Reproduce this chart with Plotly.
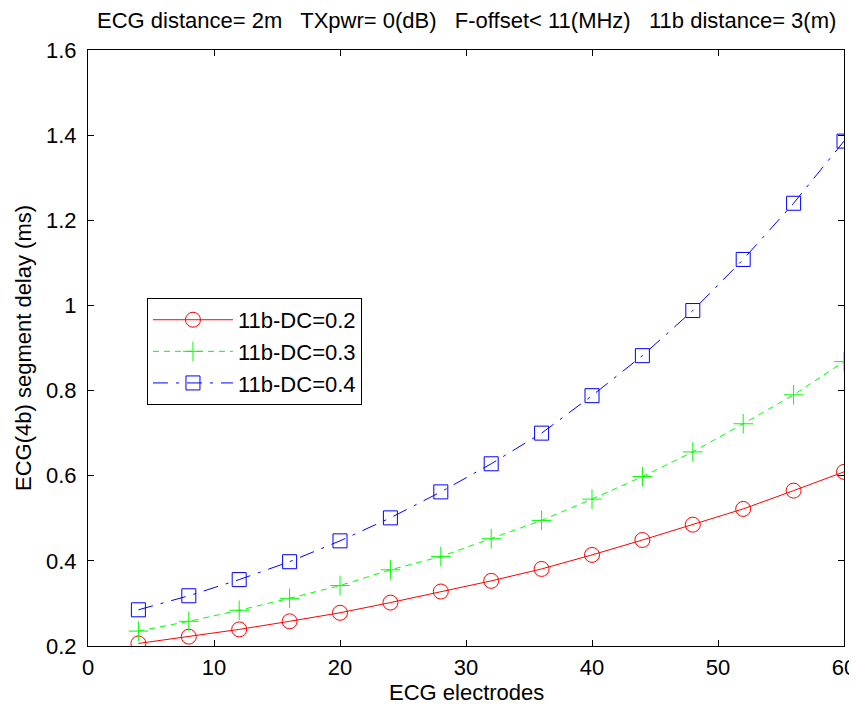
import plotly.graph_objects as go

x = [4, 8, 12, 16, 20, 24, 28, 32, 36, 40, 44, 48, 52, 56, 60]
dc02 = [0.206, 0.222, 0.239, 0.258, 0.278, 0.302, 0.328, 0.353, 0.381, 0.414, 0.449, 0.485, 0.522, 0.565, 0.609]
dc03 = [0.235, 0.258, 0.284, 0.312, 0.342, 0.379, 0.410, 0.452, 0.495, 0.545, 0.598, 0.656, 0.722, 0.790, 0.868]
dc04 = [0.285, 0.318, 0.356, 0.398, 0.447, 0.501, 0.562, 0.628, 0.700, 0.788, 0.882, 0.988, 1.108, 1.240, 1.386]
names = ["11b-DC=0.2", "11b-DC=0.3", "11b-DC=0.4"]
x_ticks = [0, 10, 20, 30, 40, 50, 60]
y_ticks = [0.2, 0.4, 0.6, 0.8, 1.0, 1.2, 1.4, 1.6]
y_ticktext = ["0.2", "0.4", "0.6", "0.8", "1", "1.2", "1.4", "1.6"]
title_text = "ECG distance= 2m   TXpwr= 0(dB)   F-offset< 11(MHz)   11b distance= 3(m)"
x_title = "ECG electrodes"
y_title = "ECG(4b) segment delay (ms)"

FONT = "Liberation Sans, Arial, sans-serif"
FS = 22
FL = 22
fig = go.Figure()
fig.add_trace(go.Scatter(x=x, y=dc02, name=names[0], mode="lines+markers",
                         line=dict(color="#ff0000", width=1, dash="solid"),
                         marker=dict(symbol="circle-open", size=15, color="#ff0000", line=dict(width=1))))
fig.add_trace(go.Scatter(x=x, y=dc03, name=names[1], mode="lines+markers",
                         line=dict(color="#00ff00", width=1, dash="6px,5px"),
                         marker=dict(symbol="cross-thin-open", size=14, color="#00ff00", line=dict(width=1, color="#00ff00"))))
fig.add_trace(go.Scatter(x=x, y=dc04, name=names[2], mode="lines+markers",
                         line=dict(color="#0000ff", width=1, dash="15px,8px,3px,8px"),
                         marker=dict(symbol="square-open", size=14, color="#0000ff", line=dict(width=1))))

axis_common = dict(showgrid=False, zeroline=False, showline=True, linecolor="black", linewidth=1,
                   mirror="allticks", ticks="inside", ticklen=6, tickcolor="black", automargin=False,
                   tickfont=dict(family=FONT, size=FS, color="black"))
fig.update_layout(
    width=849, height=697,
    margin=dict(l=80, r=13, t=42, b=59),
    paper_bgcolor="white", plot_bgcolor="white",
    font=dict(family=FONT, size=FS, color="black"),
    xaxis=dict(range=[0, 60], tickvals=x_ticks, ticklabelstandoff=2, **axis_common),
    yaxis=dict(range=[0.2, 1.6], tickvals=y_ticks, ticktext=y_ticktext, ticklabelstandoff=6, **axis_common),
    legend=dict(x=0.078, y=0.584, xanchor="left", yanchor="top", bordercolor="black", borderwidth=1,
                bgcolor="white", font=dict(family=FONT, size=FS), tracegroupgap=0, itemwidth=80),
    showlegend=True,
    annotations=[
        dict(text=title_text, x=0.5, y=1.0, xref="paper", yref="paper", xanchor="center",
             yanchor="middle", yshift=30, showarrow=False, font=dict(family=FONT, size=FS)),
        dict(text=x_title, x=0.5, y=0.0, xref="paper", yref="paper", xanchor="center",
             yanchor="middle", yshift=-46, showarrow=False, font=dict(family=FONT, size=FL)),
        dict(text=y_title, x=0.0, y=0.5, xref="paper", yref="paper", xanchor="center",
             yanchor="middle", xshift=-65, textangle=-90, showarrow=False, font=dict(family=FONT, size=FL)),
    ],
)
fig.write_html("out.html")
